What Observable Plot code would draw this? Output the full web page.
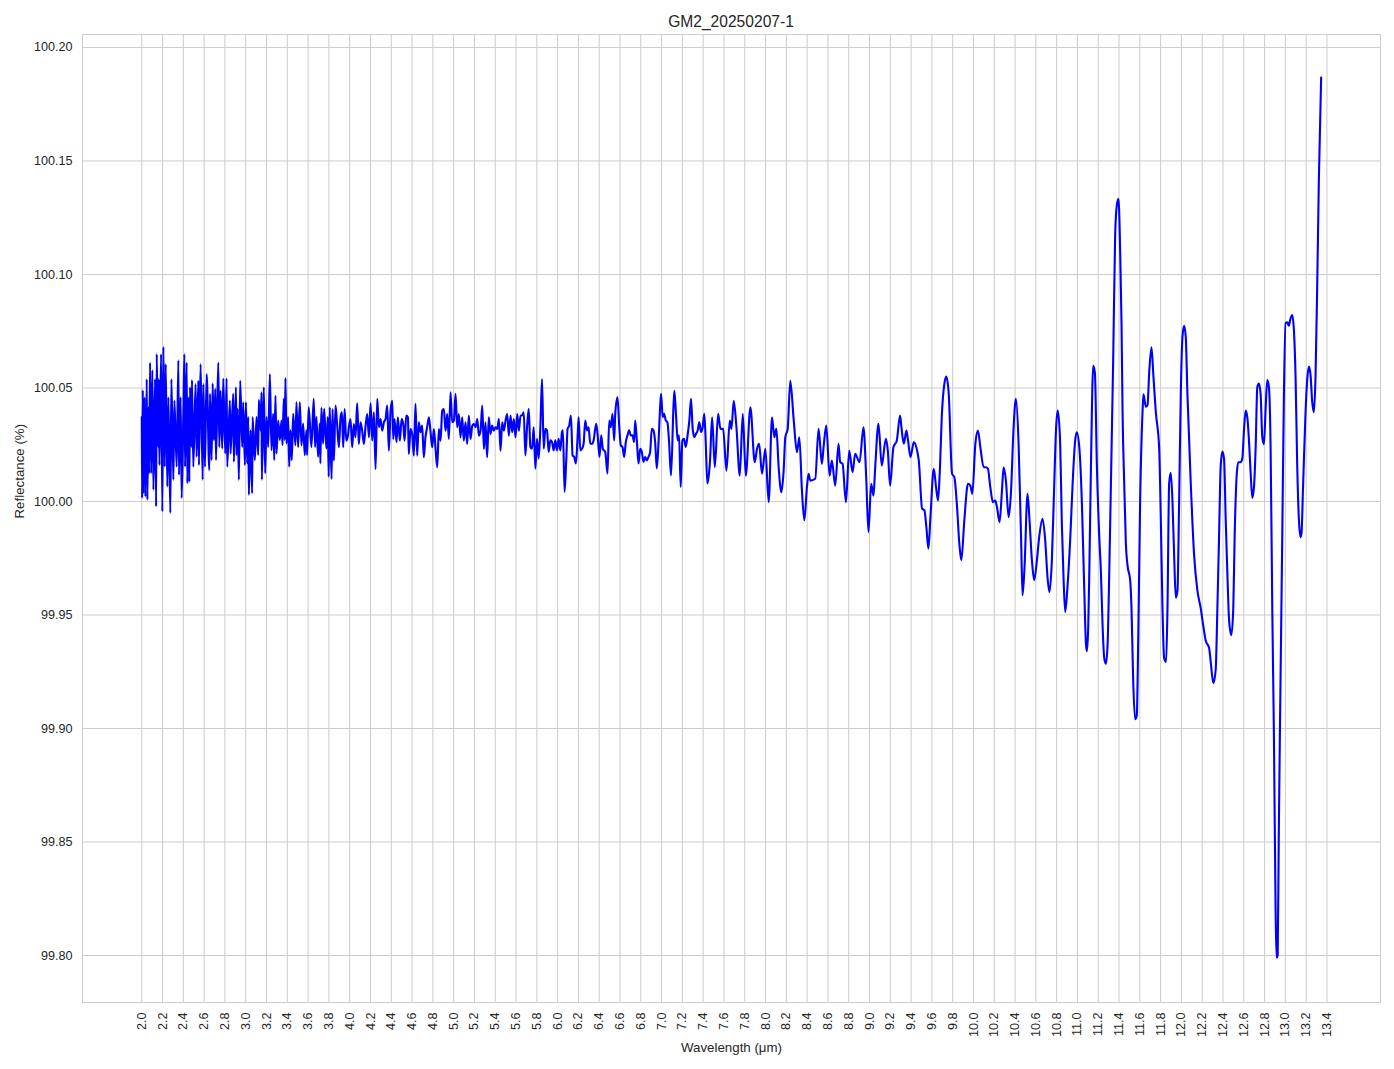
<!DOCTYPE html>
<html>
<head>
<meta charset="utf-8">
<script src="https://cdn.jsdelivr.net/npm/d3@7"></script>
<script src="https://cdn.jsdelivr.net/npm/@observablehq/plot@0.6"></script>
<style>
html, body { margin: 0; padding: 0; background: #ffffff; }
#wrap { position: relative; width: 1394px; height: 1069px; }
#wrap svg { position: absolute; left: 0; top: 0; display: block; }
#title { position: absolute; left: 82px; width: 1298px; top: 14px; text-align: center;
  font-family: "Liberation Sans", Arial, sans-serif; font-size: 15.6px; line-height: 1; color: #262626; z-index: 2; }
</style>
</head>
<body>
<div id="wrap"><div id="title">GM2_20250207-1</div></div>
<script>
const titleText = "GM2_20250207-1";
const xLabel = "Wavelength (μm)";
const yLabel = "Reflectance (%)";

const xTicks = [2.0,2.2,2.4,2.6,2.8,3.0,3.2,3.4,3.6,3.8,4.0,4.2,4.4,4.6,4.8,5.0,5.2,5.4,5.6,5.8,
  6.0,6.2,6.4,6.6,6.8,7.0,7.2,7.4,7.6,7.8,8.0,8.2,8.4,8.6,8.8,9.0,9.2,9.4,9.6,9.8,
  10.0,10.2,10.4,10.6,10.8,11.0,11.2,11.4,11.6,11.8,12.0,12.2,12.4,12.6,12.8,13.0,13.2,13.4];
const yTicks = [99.80,99.85,99.90,99.95,100.00,100.05,100.10,100.15,100.20];

const wavelength = [
  2.000,2.003,2.010,2.016,2.026,2.035,2.048,2.054,2.064,2.070,
  2.080,2.090,2.102,2.112,2.128,2.138,2.144,2.157,2.163,2.170,
  2.186,2.198,2.208,2.221,2.230,2.246,2.256,2.275,2.285,2.304,
  2.314,2.336,2.352,2.358,2.374,2.384,2.400,2.410,2.416,2.432,
  2.438,2.451,2.458,2.464,2.477,2.483,2.496,2.518,2.528,2.544,
  2.550,2.566,2.586,2.592,2.608,2.624,2.650,2.656,2.672,2.682,
  2.694,2.707,2.714,2.736,2.746,2.758,2.774,2.784,2.803,2.816,
  2.822,2.848,2.854,2.880,2.886,2.906,2.912,2.922,2.934,2.947,
  2.966,2.976,2.992,3.002,3.014,3.024,3.030,3.046,3.062,3.066,
  3.088,3.104,3.120,3.126,3.142,3.152,3.155,3.174,3.187,3.200,
  3.216,3.232,3.248,3.264,3.274,3.286,3.296,3.312,3.328,3.344,
  3.354,3.366,3.376,3.382,3.392,3.408,3.418,3.430,3.443,3.456,
  3.478,3.488,3.504,3.520,3.536,3.552,3.568,3.584,3.590,3.606,
  3.632,3.654,3.667,3.680,3.696,3.712,3.718,3.728,3.744,3.754,
  3.776,3.789,3.798,3.808,
  3.826,3.835,3.848,3.864,3.880,3.896,3.912,3.925,3.938,3.951,
  3.967,3.983,3.992,4.008,4.024,4.040,4.056,4.072,4.088,4.104,
  4.120,4.137,4.153,4.169,4.185,4.201,4.217,4.233,4.249,4.265,
  4.281,4.297,4.313,4.329,4.345,4.361,4.377,4.393,4.409,4.419,
  4.431,4.451,4.463,4.483,4.499,4.515,4.528,4.544,4.560,4.569,
  4.585,4.601,4.617,4.633,4.649,4.665,4.681,4.697,4.713,4.729,
  4.745,4.762,4.778,4.794,4.810,4.826,4.842,4.858,4.874,4.890,
  4.906,4.922,4.938,4.954,4.970,4.986,5.002,5.018,5.034,5.050,
  5.066,5.082,5.098,5.114,5.130,5.146,5.162,5.179,5.195,5.211,
  5.227,5.243,5.259,5.275,5.291,5.306,5.322,5.338,5.354,5.370,
  5.386,5.403,5.419,5.435,5.451,5.467,5.483,5.499,5.515,5.531,
  5.547,5.563,5.579,5.595,5.611,5.627,5.643,
  5.658,5.674,5.690,5.706,5.722,5.738,5.754,5.770,5.786,5.802,
  5.818,5.834,5.850,5.866,5.882,5.898,5.914,5.930,5.946,5.962,
  5.978,5.994,6.010,6.026,6.042,6.051,6.067,6.083,6.096,6.112,
  6.128,6.144,6.160,6.176,6.192,6.202,6.218,6.234,6.250,6.266,
  6.282,6.298,6.314,6.330,6.346,6.371,6.384,6.403,6.419,6.435,
  6.458,6.480,6.496,6.512,6.528,6.544,6.554,6.576,6.592,6.608,
  6.624,6.640,6.656,6.672,6.688,6.704,6.720,6.736,6.746,6.762,
  6.778,6.794,6.810,6.826,6.842,6.858,6.874,6.890,6.906,6.922,
  6.938,6.954,6.970,6.986,6.995,7.011,7.024,7.040,7.056,7.072,
  7.091,7.114,7.123,7.139,7.155,7.168,7.184,7.200,7.216,7.232,
  7.248,7.267,7.283,7.299,7.315,7.331,7.347,7.363,7.379,7.395,
  7.411,7.424,7.440,7.456,7.466,
  7.486,7.512,7.544,7.566,7.592,7.624,7.656,7.672,7.694,7.720,
  7.752,7.781,7.810,7.854,7.896,7.918,7.938,7.966,7.998,8.030,
  8.062,8.085,8.104,8.126,8.152,8.174,8.190,8.213,8.238,8.270,
  8.302,8.325,8.350,8.373,8.398,8.414,8.430,8.478,8.510,8.542,
  8.558,8.584,8.616,8.638,8.670,8.702,8.718,8.741,8.773,8.805,
  8.837,8.862,8.904,8.942,8.968,8.990,9.016,9.038,9.054,9.086,
  9.118,9.157,9.176,9.198,9.230,9.262,9.294,
  9.307,9.330,9.355,9.371,9.394,9.426,9.458,9.474,9.506,9.528,
  9.547,9.566,9.586,9.618,9.640,9.659,9.675,9.698,9.720,9.739,
  9.762,9.794,9.816,9.842,9.864,9.883,9.912,9.947,9.970,9.989,
  10.018,10.043,10.066,10.098,10.120,10.139,10.162,10.187,10.210,10.226,
  10.251,10.274,10.290,10.312,10.338,10.360,10.386,10.408,10.434,10.459,
  10.472,10.491,10.520,10.539,10.562,10.584,10.610,10.632,10.664,10.690,
  10.712,10.731,10.754,10.776,10.795,10.811,10.834,10.850,10.866,10.882,
  10.904,10.930,10.955,10.978,10.994,11.019,11.042,11.058,
  11.066,11.082,11.091,11.104,11.114,11.130,11.152,11.168,11.187,11.210,
  11.226,11.242,11.258,11.274,11.290,11.306,11.322,11.344,11.363,11.379,
  11.395,11.411,11.424,11.434,11.450,11.466,11.482,11.507,11.520,11.536,
  11.555,11.571,11.584,11.603,11.626,11.635,11.658,11.674,11.690,11.712,
  11.731,11.754,11.786,11.802,11.818,11.834,11.853,11.866,11.882,11.898,
  11.914,11.930,11.946,11.962,11.978,11.994,12.010,12.026,12.042,12.058,
  12.090,12.122,12.154,12.186,12.211,12.234,12.266,12.282,12.307,12.330,
  12.346,12.362,12.378,12.394,12.410,12.426,12.442,12.458,12.480,12.499,
  12.512,12.531,12.547,12.570,12.586,12.602,12.618,12.634,12.650,12.666,
  12.682,12.698,12.714,12.730,12.746,12.762,12.778,12.794,12.810,12.826,
  12.842,12.858,12.874,12.890,12.906,12.915,12.926,12.936,12.947,12.970,
  12.986,13.002,13.018,13.034,13.043,13.066,13.082,13.098,13.114,13.130,
  13.146,13.155,13.171,13.194,13.210,13.226,13.242,13.258,13.274,13.290,
  13.306,13.322,13.344
];

const reflectance = [
  100.0372,100.0015,100.0491,100.0036,100.0459,100.0022,100.0539,100.0007,100.0415,100.0124,
  100.0612,100.0124,100.0579,100.0051,100.0539,99.9978,100.0649,100.0240,100.0539,100.0160,
  100.0649,99.9956,100.0681,100.0153,100.0605,100.0066,100.0459,99.9949,100.0539,100.0095,
  100.0445,100.0153,100.0622,100.0117,100.0459,100.0015,100.0386,100.0649,100.0153,100.0612,
  100.0080,100.0459,100.0087,100.0503,100.0240,100.0535,100.0153,100.0517,100.0197,100.0532,
  100.0160,100.0605,100.0095,100.0517,100.0153,100.0561,100.0138,100.0474,100.0182,100.0520,
  100.0270,100.0496,100.0182,100.0612,100.0240,100.0488,100.0233,100.0542,100.0211,100.0542,
  100.0153,100.0445,100.0211,100.0474,100.0175,100.0503,100.0204,100.0408,100.0095,100.0532,
  100.0240,100.0437,100.0160,100.0437,100.0168,100.0372,100.0029,100.0313,100.0036,100.0372,
  100.0182,100.0372,100.0204,100.0448,100.0313,100.0481,100.0095,100.0503,100.0124,100.0372,
  100.0240,100.0561,100.0226,100.0386,100.0182,100.0466,100.0211,100.0357,100.0270,100.0357,
  100.0248,100.0452,100.0270,100.0544,100.0255,100.0372,100.0153,100.0313,100.0182,100.0386,
  100.0248,100.0437,100.0240,100.0437,100.0248,100.0343,100.0204,100.0313,100.0204,100.0415,
  100.0240,100.0452,100.0240,100.0372,100.0197,100.0343,100.0168,100.0413,100.0255,100.0408,
  100.0233,100.0372,100.0109,100.0415,
  100.0099,100.0407,100.0180,100.0422,100.0334,100.0239,100.0371,100.0393,100.0239,100.0407,
  100.0268,100.0290,100.0327,100.0363,100.0239,100.0341,100.0283,100.0432,100.0253,100.0349,
  100.0312,100.0253,100.0334,100.0385,100.0283,100.0432,100.0268,100.0393,100.0143,100.0452,
  100.0327,100.0363,100.0312,100.0349,100.0363,100.0422,100.0224,100.0400,100.0444,100.0275,
  100.0363,100.0261,100.0371,100.0268,100.0363,100.0341,100.0268,100.0378,100.0371,100.0209,
  100.0319,100.0297,100.0202,100.0430,100.0202,100.0349,100.0305,100.0334,100.0195,100.0283,
  100.0327,100.0371,100.0305,100.0239,100.0319,100.0231,100.0151,100.0319,100.0268,100.0400,
  100.0407,100.0312,100.0385,100.0275,100.0481,100.0349,100.0356,100.0474,100.0327,100.0385,
  100.0283,100.0371,100.0268,100.0349,100.0253,100.0378,100.0275,100.0334,100.0341,100.0327,
  100.0363,100.0290,100.0312,100.0422,100.0231,100.0349,100.0195,100.0371,100.0297,100.0334,
  100.0312,100.0327,100.0319,100.0363,100.0224,100.0349,100.0312,100.0356,100.0385,100.0290,
  100.0378,100.0305,100.0363,100.0283,100.0385,100.0312,100.0378,
  100.0379,100.0393,100.0203,100.0327,100.0408,100.0240,100.0232,100.0327,100.0145,100.0276,
  100.0189,100.0327,100.0539,100.0232,100.0320,100.0313,100.0218,100.0269,100.0262,100.0225,
  100.0269,100.0225,100.0276,100.0225,100.0306,100.0313,100.0042,100.0181,100.0320,100.0335,
  100.0379,100.0203,100.0196,100.0167,100.0284,100.0371,100.0225,100.0232,100.0254,100.0357,
  100.0313,100.0327,100.0254,100.0254,100.0269,100.0342,100.0298,100.0196,100.0291,100.0232,
  100.0218,100.0123,100.0357,100.0327,100.0386,100.0269,100.0386,100.0459,100.0335,100.0247,
  100.0240,100.0196,100.0262,100.0291,100.0313,100.0291,100.0291,100.0262,100.0357,100.0269,
  100.0167,100.0232,100.0218,100.0174,100.0196,100.0181,100.0196,100.0218,100.0320,100.0313,
  100.0262,100.0145,100.0254,100.0415,100.0474,100.0371,100.0386,100.0357,100.0349,100.0262,
  100.0115,100.0415,100.0488,100.0379,100.0269,100.0291,100.0064,100.0269,100.0276,100.0240,
  100.0284,100.0357,100.0452,100.0320,100.0284,100.0298,100.0313,100.0349,100.0306,100.0327,
  100.0386,100.0269,100.0079,100.0123,100.0181,
  100.0371,100.0151,100.0386,100.0320,100.0320,100.0136,100.0356,100.0320,100.0444,100.0327,
  100.0114,100.0386,100.0114,100.0415,100.0173,100.0232,100.0254,100.0122,100.0232,99.9997,
  100.0371,100.0283,100.0320,100.0151,100.0041,100.0136,100.0283,100.0320,100.0532,100.0364,
  100.0217,100.0283,100.0048,99.9917,100.0063,100.0122,100.0092,100.0100,100.0320,100.0166,
  100.0239,100.0334,100.0114,100.0180,100.0070,100.0254,100.0173,100.0166,99.9997,100.0224,
  100.0129,100.0210,100.0173,100.0327,100.0107,99.9865,100.0078,100.0026,100.0144,100.0342,
  100.0158,100.0276,100.0224,100.0070,100.0239,100.0268,100.0378,
  100.0327,100.0254,100.0312,100.0268,100.0195,100.0261,100.0224,100.0180,99.9968,99.9961,
  99.9887,99.9792,99.9931,100.0144,100.0063,100.0004,100.0122,100.0400,100.0518,100.0550,
  100.0474,100.0122,100.0107,99.9975,99.9814,99.9741,99.9917,100.0078,100.0070,100.0034,
  100.0254,100.0312,100.0239,100.0151,100.0151,100.0144,100.0063,99.9997,100.0004,99.9975,
  99.9909,100.0048,100.0151,100.0092,99.9931,100.0034,100.0327,100.0452,100.0254,99.9814,
  99.9587,99.9711,100.0034,99.9917,99.9741,99.9653,99.9741,99.9843,99.9924,99.9829,
  99.9667,99.9601,99.9741,100.0063,100.0327,100.0400,100.0254,99.9902,99.9667,99.9513,
  99.9623,99.9829,100.0092,100.0268,100.0305,100.0232,100.0004,99.9741,
  99.9607,99.9371,99.9340,99.9450,99.9686,100.0157,100.0598,100.0566,100.0157,99.9843,
  99.9686,99.9450,99.9309,99.9285,99.9371,99.9686,100.0079,100.0629,100.1179,100.1305,
  100.1333,100.1101,100.0786,100.0393,100.0079,99.9812,99.9717,99.9654,99.9529,99.9214,
  99.9041,99.9057,99.9371,100.0000,100.0393,100.0472,100.0417,100.0425,100.0566,100.0679,
  100.0550,100.0393,100.0236,99.9922,99.9529,99.9309,99.9293,99.9529,100.0079,100.0126,
  100.0000,99.9764,99.9576,99.9607,100.0000,100.0472,100.0723,100.0774,100.0723,100.0472,
  100.0079,99.9764,99.9607,99.9529,99.9450,99.9387,99.9356,99.9293,99.9199,99.9261,
  99.9529,99.9843,100.0157,100.0220,100.0189,99.9922,99.9686,99.9482,99.9411,99.9529,
  99.9843,100.0110,100.0173,100.0173,100.0189,100.0315,100.0401,100.0370,100.0267,100.0126,
  100.0016,100.0063,100.0236,100.0503,100.0519,100.0472,100.0283,100.0252,100.0409,100.0535,
  100.0503,100.0236,99.9529,99.8963,99.8200,99.7990,99.8000,99.8500,99.8963,99.9843,
  100.0472,100.0786,100.0789,100.0774,100.0794,100.0821,100.0755,100.0550,100.0157,99.9921,
  99.9843,99.9859,100.0079,100.0393,100.0535,100.0594,100.0558,100.0440,100.0393,100.0550,
  100.0943,100.1415,100.1867
];

const data = wavelength.map((w, i) => ({w, r: reflectance[i]}));
document.getElementById("title").textContent = titleText;

const chart = Plot.plot({
  width: 1394,
  height: 1069,
  marginTop: 34,
  marginRight: 14,
  marginBottom: 67,
  marginLeft: 82,
  style: {fontFamily: '"Liberation Sans", Arial, sans-serif', fontSize: "12.6px", color: "#262626", background: "#ffffff"},
  x: {domain: [1.43, 13.915]},
  y: {domain: [99.7793, 100.2057]},
  marks: [
    Plot.gridX(xTicks, {stroke: "#cccccc", strokeOpacity: 1, strokeWidth: 1}),
    Plot.gridY(yTicks, {stroke: "#cccccc", strokeOpacity: 1, strokeWidth: 1}),
    Plot.frame({stroke: "#cccccc", strokeWidth: 1}),
    Plot.axisX(xTicks, {tickSize: 0, tickPadding: 10, tickRotate: -90, tickFormat: d3.format(".1f"), label: null, fill: "#262626"}),
    Plot.axisY(yTicks, {tickSize: 0, tickPadding: 10, tickFormat: d3.format(".2f"), label: null, fill: "#262626"}),
    Plot.text([xLabel], {frameAnchor: "bottom", lineAnchor: "top", dy: 40.3, fontSize: 13.3, fill: "#262626"}),
    Plot.text([yLabel], {frameAnchor: "left", rotate: -90, lineAnchor: "top", dx: -67.7, fontSize: 13.3, fill: "#262626"}),
    Plot.line(data, {x: "w", y: "r", stroke: "#0000ff", strokeWidth: 2.1, curve: "monotone-x"})
  ]
});
document.getElementById("wrap").appendChild(chart);
</script>
</body>
</html>
